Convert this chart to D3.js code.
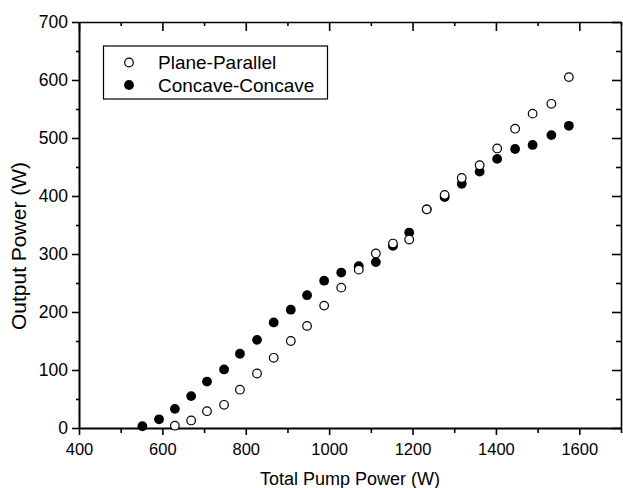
<!DOCTYPE html>
<html>
<head>
<meta charset="utf-8">
<script src="https://cdn.jsdelivr.net/npm/d3@7"></script>
<style>
  body { margin: 0; background: #fff; }
  svg { display: block; font-family: "Liberation Sans", Arial, sans-serif; }
</style>
</head>
<body>
<div id="main"></div>
<script>
// Plane-Parallel resonator (open circles)
var ppPump = [630, 669, 707, 748, 786, 827, 867, 908, 947, 988, 1029, 1071, 1112, 1153, 1192, 1234, 1277, 1318, 1361, 1403, 1446, 1488, 1533, 1575];
var ppOutput = [4, 13, 29, 40, 66, 94, 121, 150, 176, 211, 242, 273, 301, 318, 325, 377, 402, 431, 453, 482, 516, 542, 559, 605];
// Concave-Concave resonator (filled circles)
var ccPump = [552, 592, 630, 669, 707, 748, 786, 827, 867, 908, 947, 988, 1029, 1071, 1112, 1153, 1192, 1234, 1277, 1318, 1361, 1403, 1446, 1488, 1533, 1575];
var ccOutput = [3, 15, 33, 55, 80, 101, 128, 152, 182, 204, 229, 254, 268, 279, 286, 314, 337, 377, 398, 421, 442, 464, 481, 488, 505, 521];

var xMajor = [400, 600, 800, 1000, 1200, 1400, 1600];
var xMinor = [500, 700, 900, 1100, 1300, 1500, 1700];
var yMajor = [0, 100, 200, 300, 400, 500, 600, 700];
var yMinor = [50, 150, 250, 350, 450, 550, 650];
var seriesNames = ["Plane-Parallel", "Concave-Concave"];

var ctx = {
    w: 623,
    h: 488,
    left: 79,
    right: 621,
    top: 22,
    bottom: 428,
    r: 4.3
};

var svg = d3.select("#main").append("svg")
    .attr("width", ctx.w)
    .attr("height", ctx.h);

var x = d3.scaleLinear().domain([400, 1700]).range([ctx.left, ctx.right]);
var y = d3.scaleLinear().domain([0, 700]).range([ctx.bottom, ctx.top]);

var styleAxis = function(g, width) {
    g.select(".domain").attr("stroke", "#000").attr("stroke-width", width);
    g.selectAll(".tick line").attr("stroke", "#000").attr("stroke-width", 1.6);
    g.selectAll("text").attr("fill", "#000");
};

// bottom axis: outward ticks, labels every 200
var gb = svg.append("g").attr("transform", "translate(0," + ctx.bottom + ")");
gb.call(d3.axisBottom(x).tickValues(xMajor).tickSize(7).tickSizeOuter(0).tickPadding(8).tickFormat(d3.format("d")))
    .style("font-size", "16.5px");
gb.append("g").call(d3.axisBottom(x).tickValues(xMinor).tickSize(5).tickSizeOuter(0).tickFormat(""))
    .select(".domain").remove();
styleAxis(gb, 2);
gb.selectAll(".tick line").attr("stroke-width", 1.6);

// left axis: outward ticks
var gl = svg.append("g").attr("transform", "translate(" + ctx.left + ",0)");
gl.call(d3.axisLeft(y).tickValues(yMajor).tickSize(7).tickSizeOuter(0).tickPadding(4).tickFormat(d3.format("d")))
    .style("font-size", "17.5px");
gl.append("g").call(d3.axisLeft(y).tickValues(yMinor).tickSize(3).tickSizeOuter(0).tickFormat(""))
    .select(".domain").remove();
styleAxis(gl, 2);

// top axis: inward ticks, no labels
var gt = svg.append("g").attr("transform", "translate(0," + ctx.top + ")");
gt.call(d3.axisTop(x).tickValues(xMajor).tickSize(-9).tickSizeOuter(0).tickFormat(""));
gt.append("g").call(d3.axisTop(x).tickValues(xMinor).tickSize(-4).tickSizeOuter(0).tickFormat(""))
    .select(".domain").remove();
styleAxis(gt, 1.6);

// right axis: inward ticks, no labels
var gr = svg.append("g").attr("transform", "translate(" + ctx.right + ",0)");
gr.call(d3.axisRight(y).tickValues(yMajor).tickSize(-9).tickSizeOuter(0).tickFormat(""));
gr.append("g").call(d3.axisRight(y).tickValues(yMinor).tickSize(-5).tickSizeOuter(0).tickFormat(""))
    .select(".domain").remove();
styleAxis(gr, 1.6);

// axis titles
svg.append("text")
    .attr("x", (ctx.left + ctx.right) / 2)
    .attr("y", 485)
    .attr("text-anchor", "middle")
    .style("font-size", "18px")
    .text("Total Pump Power (W)");

svg.append("text")
    .attr("transform", "translate(26,246) rotate(-90)")
    .attr("text-anchor", "middle")
    .style("font-size", "21px")
    .text("Output Power (W)");

// data points
svg.append("g").selectAll("circle")
    .data(ccPump.map(function(d, i) { return {x: d, y: ccOutput[i]}; }))
    .enter()
    .append("circle")
    .attr("cx", function(d) { return x(d.x); })
    .attr("cy", function(d) { return y(d.y); })
    .attr("r", ctx.r + 0.6)
    .attr("fill", "#000");

svg.append("g").selectAll("circle")
    .data(ppPump.map(function(d, i) { return {x: d, y: ppOutput[i]}; }))
    .enter()
    .append("circle")
    .attr("cx", function(d) { return x(d.x); })
    .attr("cy", function(d) { return y(d.y); })
    .attr("r", ctx.r)
    .attr("fill", "#fff")
    .attr("stroke", "#000")
    .attr("stroke-width", 1.2);

// legend
var lg = svg.append("g");
lg.append("rect")
    .attr("x", 103.5).attr("y", 46)
    .attr("width", 224).attr("height", 53)
    .attr("fill", "#fff")
    .attr("stroke", "#000")
    .attr("stroke-width", 1.2);
seriesNames.forEach(function(name, i) {
    var cy = 62.5 + i * 22.5;
    lg.append("circle")
        .attr("cx", 129).attr("cy", cy)
        .attr("r", i == 0 ? ctx.r : ctx.r + 0.6)
        .attr("fill", i == 0 ? "#fff" : "#000")
        .attr("stroke", "#000")
        .attr("stroke-width", i == 0 ? 1.2 : 0);
    lg.append("text")
        .attr("x", 158).attr("y", cy + 6.5)
        .style("font-size", "19px")
        .text(name);
});
</script>
</body>
</html>
